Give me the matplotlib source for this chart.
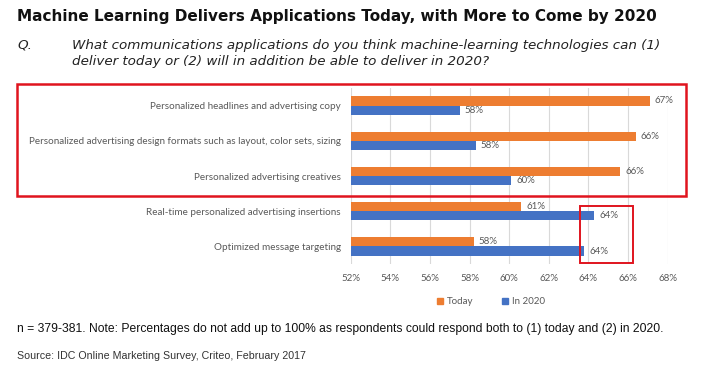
import matplotlib
matplotlib.use("Agg")
import matplotlib.pyplot as plt
from matplotlib.patches import Rectangle, Patch
from matplotlib.ticker import FuncFormatter

categories = [
    "Personalized headlines and advertising copy",
    "Personalized advertising design formats such as layout, color sets, sizing",
    "Personalized advertising creatives",
    "Real-time personalized advertising insertions",
    "Optimized message targeting",
]
today = [67.1, 66.4, 65.6, 60.6, 58.2]
in2020 = [57.5, 58.3, 60.1, 64.3, 63.8]
today_labels = ["67%", "66%", "66%", "61%", "58%"]
in2020_labels = ["58%", "58%", "60%", "64%", "64%"]
xticks = [52, 54, 56, 58, 60, 62, 64, 66, 68]

W, H = 709, 369
fig = plt.figure(figsize=(W / 100, H / 100), dpi=100)
fig.patch.set_facecolor("white")

def fx(px):
    return px / W

def fy(py):
    return 1 - py / H

ax_left, ax_right = 350.7, 667.7
ax_top, ax_bot = 87.9, 264.1
ax = fig.add_axes([fx(ax_left), fy(ax_bot), (ax_right - ax_left) / W, (ax_bot - ax_top) / H])

orange = "#ED7D31"
blue = "#4472C4"
gray = "#595959"
fs_small = 7.0
bh = 0.26
ys = list(range(len(categories)))
ax.barh([y - bh / 2 for y in ys], [v - 52 for v in today], left=52, height=bh, color=orange, zorder=3)
ax.barh([y + bh / 2 for y in ys], [v - 52 for v in in2020], left=52, height=bh, color=blue, zorder=3)

for y, v, lab in zip(ys, today, today_labels):
    ax.text(v + 0.25, y - bh / 2, lab, va="center", ha="left", fontsize=fs_small, color=gray, family="Lato")
for y, v, lab in zip(ys, in2020, in2020_labels):
    ax.text(v + 0.25, y + bh / 2, lab, va="center", ha="left", fontsize=fs_small, color=gray, family="Lato")

ax.set_xlim(52, 68)
ax.set_ylim(4.5, -0.5)
ax.set_xticks(xticks)
ax.xaxis.set_major_formatter(FuncFormatter(lambda v, p: f"{int(v)}%"))
ax.set_yticks(ys)
ax.set_yticklabels(categories)
for lab in ax.get_yticklabels() + ax.get_xticklabels():
    lab.set_family("Lato")
    lab.set_color(gray)
    lab.set_fontsize(fs_small)
for lab in ax.get_yticklabels():
    lab.set_fontsize(7.15)
ax.tick_params(axis="both", length=0)
ax.tick_params(axis="y", pad=7)
ax.tick_params(axis="x", pad=7)
ax.grid(axis="x", color="#D9D9D9", linewidth=0.8, zorder=0)
for s in ax.spines.values():
    s.set_visible(False)

handles = [Patch(color=orange, label="Today"), Patch(color=blue, label="In 2020")]
leg = fig.legend(handles=handles, loc="center", bbox_to_anchor=(fx(491), fy(302)), ncol=2,
                 frameon=False, handlelength=0.6, handleheight=0.6, columnspacing=3.0,
                 handletextpad=0.4, prop={"family": "Lato", "size": fs_small})
for t in leg.get_texts():
    t.set_color(gray)

# Title and question
fig.text(fx(17), fy(17), "Machine Learning Delivers Applications Today, with More to Come by 2020",
         fontsize=11.0, fontweight="bold", family="DejaVu Sans", va="center", ha="left", color="#111111")
fig.text(fx(17), fy(45), "Q.", fontsize=9.7, style="italic", family="DejaVu Sans", va="center", ha="left", color="#222222")
fig.text(fx(72), fy(45), "What communications applications do you think machine-learning technologies can (1)",
         fontsize=9.7, style="italic", family="DejaVu Sans", va="center", ha="left", color="#222222")
fig.text(fx(72), fy(62), "deliver today or (2) will in addition be able to deliver in 2020?",
         fontsize=9.7, style="italic", family="DejaVu Sans", va="center", ha="left", color="#222222")

# Notes
fig.text(fx(17), fy(329), "n = 379-381. Note: Percentages do not add up to 100% as respondents could respond both to (1) today and (2) in 2020.",
         fontsize=8.7, family="Liberation Sans", va="center", ha="left", color="#111111")
fig.text(fx(17), fy(356), "Source: IDC Online Marketing Survey, Criteo, February 2017",
         fontsize=7.7, family="Liberation Sans", va="center", ha="left", color="#333333")

# Red highlight rectangles
fig.add_artist(Rectangle((fx(17), fy(196)), (686 - 17) / W, (196 - 84) / H, transform=fig.transFigure,
                         fill=False, edgecolor="#E0141E", linewidth=1.8, zorder=10))
fig.add_artist(Rectangle((fx(580), fy(263)), (633 - 580) / W, (263 - 206) / H, transform=fig.transFigure,
                         fill=False, edgecolor="#E0141E", linewidth=1.4, zorder=10))

fig.savefig("out.png", dpi=100)
